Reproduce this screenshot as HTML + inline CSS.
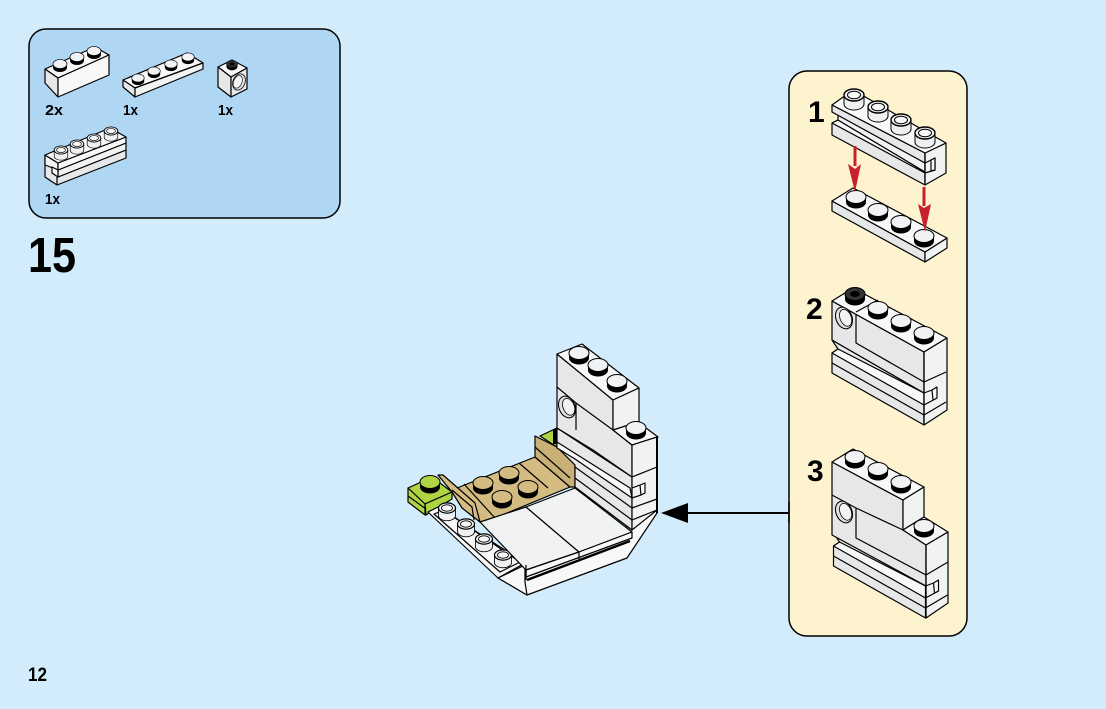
<!DOCTYPE html>
<html><head><meta charset="utf-8"><style>
html,body{margin:0;padding:0;background:#d3ecfc;width:1106px;height:709px;overflow:hidden}
svg{display:block}
text{font-family:"Liberation Sans",sans-serif;font-weight:bold;fill:#000}
.w{fill:#f8f8f8;stroke:#000;stroke-width:1.2;stroke-linejoin:round}
.l{fill:#f1f2f2;stroke:#000;stroke-width:1.2;stroke-linejoin:round}
.g{fill:#e6e7e8;stroke:#000;stroke-width:1.2;stroke-linejoin:round}
.n{fill:none;stroke:#000;stroke-width:1.2;stroke-linejoin:round}
.t{fill:#d3bb82;stroke:#000;stroke-width:1.2;stroke-linejoin:round}
.v{fill:#c9b077;stroke:#000;stroke-width:1.2;stroke-linejoin:round}
.k{fill:#aed443;stroke:#000;stroke-width:1.2;stroke-linejoin:round}
</style></head><body>
<svg width="1106" height="709" viewBox="0 0 1106 709" xmlns="http://www.w3.org/2000/svg">
<defs>
<g id="s"><path d="M-10,0v5a10,6.5 0 0 0 20,0v-5z" fill="#000"/><ellipse rx="10" ry="6.5" fill="#f1f2f3" stroke="#000" stroke-width="1"/></g>
<g id="st"><path d="M-10,0v5a10,6.5 0 0 0 20,0v-5z" fill="#000"/><ellipse rx="10" ry="6.5" fill="#d3bb82" stroke="#000" stroke-width="1"/></g>
<g id="sg"><path d="M-10,0v5a10,6.5 0 0 0 20,0v-5z" fill="#000"/><ellipse rx="10" ry="6.5" fill="#aed443" stroke="#000" stroke-width="1"/></g>
<g id="h"><path d="M-10,0v9a10,6 0 0 0 20,0v-9z" fill="#eef0f1" stroke="#000" stroke-width="1"/><ellipse rx="10" ry="6" fill="#eff0f1" stroke="#000" stroke-width="1.4"/><ellipse rx="6.5" ry="3.8" fill="#f6f7f7" stroke="#000" stroke-width="1"/></g>
<g id="d"><path d="M-10,0v5a10,6.5 0 0 0 20,0v-5z" fill="#000"/><ellipse rx="10" ry="6.5" fill="#333" stroke="#000" stroke-width="1"/><ellipse rx="5" ry="3" fill="#000"/></g>
<g id="o"><ellipse rx="10" ry="14" transform="rotate(-22)" fill="#e0e1e2" stroke="#000" stroke-width="1.3"/><ellipse cx="2" cy="0.5" rx="7" ry="11" transform="rotate(-22)" fill="#f2f3f3" stroke="#000" stroke-width="1"/></g>
<g id="clip">
<path class="g" d="M832,340L924,393V425L832,373V353L838,349Z"/>
<path class="w" d="M832,353L838,349L924,393V405Z"/>
<path class="n" d="M832,363L924,415"/>
</g>
<g id="side">
<path class="n" d="M924,393L932,390M924,405L937,398M924,415L946,402"/>
<path class="w" d="M932,390L937,387V398L933,400Z"/>
</g>
</defs>

<rect width="1106" height="709" fill="#d3ecfc"/>
<rect x="29" y="29" width="311" height="189" rx="17" fill="#afd6f3" stroke="#000" stroke-width="1.5"/>
<rect x="789" y="71" width="178" height="565" rx="18" fill="#fdf3cf" stroke="#000" stroke-width="1.5"/>

<!-- parts -->
<path class="w" d="M45,69L95,47L109,55L58,78Z"/>
<path class="g" d="M45,69L58,78V97L45,83Z"/>
<path class="w" d="M58,78L109,55V75L58,97Z"/>
<use href="#s" transform="translate(60,64) scale(.7)"/><use href="#s" transform="translate(77,57) scale(.7)"/><use href="#s" transform="translate(94,51) scale(.7)"/>

<path class="w" d="M123,80L187,53L203,63L135,88Z"/>
<path class="g" d="M123,80L135,88V97L123,87Z"/>
<path class="l" d="M135,88L203,63V69L135,97Z"/>
<use href="#s" transform="translate(138,78) scale(.62)"/><use href="#s" transform="translate(154,71) scale(.62)"/><use href="#s" transform="translate(171,64) scale(.62)"/><use href="#s" transform="translate(188,57) scale(.62)"/>

<path class="w" d="M218,67L232,60L247,68L231,77Z"/>
<path class="g" d="M218,67L231,77V97L218,87Z"/>
<path class="g" d="M231,77L247,68V89L231,97Z"/>
<use href="#d" transform="translate(232,64) scale(.55)"/>
<g transform="translate(239,82) scale(.6) scale(-1,1)"><use href="#o"/></g>

<path class="g" d="M45,155L58,163V177L126,150V158L57,185L45,177Z"/>
<path class="l" d="M58,170L126,143V150L58,177Z"/>
<path class="l" d="M45,155L58,163V170L45,165Z"/>
<path class="w" d="M58,163L126,137V143L58,170Z"/>
<path class="w" d="M45,155L110,128L126,137L58,163Z"/>
<path class="w" d="M52,167L58,170V177L52,173Z" stroke="none"/>
<path class="n" d="M57,177V185"/>
<use href="#h" transform="translate(61,150) scale(.68)"/><use href="#h" transform="translate(77,144) scale(.68)"/><use href="#h" transform="translate(94,138) scale(.68)"/><use href="#h" transform="translate(111,131) scale(.68)"/>

<text x="45" y="115" font-size="15" textLength="18" lengthAdjust="spacingAndGlyphs">2x</text>
<text x="123" y="115" font-size="15" textLength="15" lengthAdjust="spacingAndGlyphs">1x</text>
<text x="218" y="115" font-size="15" textLength="15" lengthAdjust="spacingAndGlyphs">1x</text>
<text x="45" y="204" font-size="15" textLength="15" lengthAdjust="spacingAndGlyphs">1x</text>
<text x="28" y="272" font-size="49" textLength="48" lengthAdjust="spacingAndGlyphs">15</text>
<text x="28" y="681" font-size="19" textLength="19" lengthAdjust="spacingAndGlyphs">12</text>

<!-- main arrow -->
<path d="M789,502V523" stroke="#000" stroke-width="1.5"/>
<path d="M789,513H680" stroke="#000" stroke-width="2"/>
<path d="M661,513L688,503V523Z" fill="#000"/>

<!-- hull -->
<path class="w" d="M498,578L527,595L627,558L657,513V505L632,525L526,565Z"/>
<path d="M527,580L630,541" stroke="#000" stroke-width="2.5" fill="none"/>

<!-- tan plate -->
<path class="t" d="M457,488L535,457L570,487L495,518L480,522Z"/>
<path class="n" d="M464,484L495,518M519,463L548,488"/>
<use href="#st" transform="translate(483,483)"/><use href="#st" transform="translate(509,473)"/><use href="#st" transform="translate(528,487)"/><use href="#st" transform="translate(502,497)"/>

<path class="t" d="M438,475L443,475L475,503L480,522L462,508L452,492Z"/>
<path class="n" d="M452,490L472,507L474,520"/>
<path class="v" d="M535,436L557,447L575,465V487L570,487L535,457Z"/>
<path class="n" d="M535,447L570,478"/>

<!-- green -->
<path class="k" d="M408,488L432,477L452,492L425,504Z"/>
<path class="k" d="M408,488L425,504V515L408,502Z"/>
<path class="k" d="M425,504L452,492V499L426,515Z"/>
<path class="n" d="M408,496L426,509"/>
<use href="#sg" transform="translate(430,482)"/>
<path class="k" d="M540,436L557,428L563,436L557,447Z"/>
<path d="M553,429h10l1,5l-6,3v7h-5z" fill="#000"/>

<!-- left plate -->
<path class="w" d="M428,512L438,507L525,563L498,578Z"/>
<path class="n" d="M434,514L444,510L520,562L500,572Z"/>
<use href="#h" transform="translate(447,508) scale(.85)"/><use href="#h" transform="translate(466,524) scale(.85)"/><use href="#h" transform="translate(484,539) scale(.85)"/><use href="#h" transform="translate(503,555) scale(.85)"/>
<path class="w" d="M498,578L525,565V582L527,595Z"/>

<!-- floor -->
<path class="l" d="M480,522L526,507L579,552L526,570Z"/>
<path class="l" d="M526,507L575,488L632,532L579,552Z"/>
<path class="w" d="M526,570L579,552L632,532V538L526,577Z"/>
<path class="n" d="M579,552V559M526,565V580"/>

<!-- wall -->
<path class="g" d="M557,428L632,477V530L575,487V465L557,447Z"/>
<path class="w" d="M557,442L630,488L632,498L575,459L557,448Z"/>
<path class="n" d="M575,467L632,508M575,478L632,520"/>
<path class="g" d="M557,354L613,400V430L632,445V477L593,450L557,428Z"/>
<path class="n" d="M557,387L576,403L613,430M576,403V430"/>
<path class="w" d="M557,354L582,344L639,388L613,400Z"/>
<path class="l" d="M613,400L639,388V422L613,430Z"/>
<path class="w" d="M613,430L638,422L658,437L632,445Z"/>
<path class="l" d="M632,445L657,437V510L632,530Z"/>
<path class="n" d="M632,477L657,467M632,488L640,485M632,498L641,495M632,508L657,499M632,520L657,510"/>
<path class="w" d="M640,485L645,483V493L641,495Z"/>
<path d="M657,437V513" stroke="#000" stroke-width="2" fill="none"/>
<use href="#s" transform="translate(579,353)"/><use href="#s" transform="translate(598,365)"/><use href="#s" transform="translate(617,381)"/><use href="#s" transform="translate(636,428)"/>
<use href="#o" transform="translate(567,407) scale(.8)"/>

<!-- step 1 -->
<path class="g" d="M832,123L838,120L925,172V185L832,135Z"/>
<path class="w" d="M832,123L838,120L925,172V173Z"/>
<path class="l" d="M838,112L925,163V172L838,120Z" stroke="none"/>
<path class="g" d="M832,105L925,153V163L832,112Z"/>
<path class="l" d="M925,153L946,143V173L925,185Z"/>
<path class="n" d="M925,163L935,158V170L925,173"/>
<path class="w" d="M931,160L935,158V170L931,171Z"/>
<path class="w" d="M832,105L853,90L946,143L925,153Z"/>
<path class="n" d="M925,153V185"/>
<use href="#h" transform="translate(854,95)"/><use href="#h" transform="translate(878,107)"/><use href="#h" transform="translate(901,120)"/><use href="#h" transform="translate(925,133)"/>

<path class="g" d="M832,201L925,252V262L832,211Z"/>
<path class="l" d="M925,252L947,238V248L925,262Z"/>
<path class="w" d="M832,201L853,188L947,238L925,252Z"/>
<use href="#s" transform="translate(856,197)"/><use href="#s" transform="translate(878,210)"/><use href="#s" transform="translate(901,222)"/><use href="#s" transform="translate(924,236)"/>
<path d="M855,146V166" stroke="#c8202e" stroke-width="3"/>
<path d="M848,164L855,169L861,164L855,192Z" fill="#c8202e"/>
<path d="M924,187V206" stroke="#c8202e" stroke-width="3"/>
<path d="M918,204L924,208L931,204L925,232Z" fill="#c8202e"/>

<!-- step 2 -->
<use href="#clip"/>
<path class="g" d="M832,301L924,352V393L832,340Z"/>
<path class="n" d="M856,312V343L924,382"/>
<path class="w" d="M832,301L853,288L947,338L924,352Z"/>
<path class="l" d="M924,352L947,338V410L924,425Z"/>
<path class="n" d="M924,382L946,372"/>
<use href="#side"/>
<path class="n" d="M856,312L878,300M924,352V425"/>
<use href="#d" transform="translate(855,294)"/>
<use href="#s" transform="translate(878,308)"/><use href="#s" transform="translate(901,321)"/><use href="#s" transform="translate(924,333)"/>
<use href="#o" transform="translate(844,318) scale(.8)"/>

<!-- step 3 -->
<g transform="translate(1.5,193)"><use href="#clip"/></g>
<path class="g" d="M832,462L903,500V530L926,545V586L832,535Z"/>
<path class="n" d="M832,495L856,508V538L926,575M856,508L903,530"/>
<path class="w" d="M832,462L853,449L924,487L903,500Z"/>
<path class="l" d="M903,500L924,487V517L903,530Z"/>
<path class="w" d="M903,530L924,517L948,532L926,545Z"/>
<path class="l" d="M926,545L948,532V603L926,618Z"/>
<path class="n" d="M926,575L948,562"/>
<g transform="translate(1.5,193)"><use href="#side"/></g>
<path class="n" d="M926,545V618"/>
<use href="#s" transform="translate(855,457)"/><use href="#s" transform="translate(878,469)"/><use href="#s" transform="translate(901,482)"/><use href="#s" transform="translate(924,526)"/>
<use href="#o" transform="translate(844,512) scale(.8)"/>

<text x="808" y="122" font-size="30">1</text>
<text x="806" y="319" font-size="30">2</text>
<text x="807" y="481" font-size="30">3</text>
</svg>
</body></html>
